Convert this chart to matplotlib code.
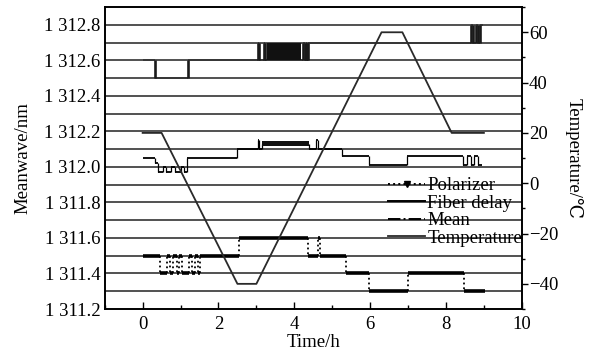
import matplotlib
matplotlib.use("Agg")
import matplotlib.pyplot as plt
from matplotlib.lines import Line2D
from matplotlib.ticker import FixedLocator, MultipleLocator, FuncFormatter

plt.rcParams['font.family'] = ['Liberation Serif', 'DejaVu Serif']
plt.rcParams['mathtext.fontset'] = 'stix'

# ---------------- data ----------------
temp_time = [0.0, 0.5, 2.5, 3.0, 6.3, 6.85, 8.15, 9.0]
temp_value = [20, 20, -40, -40, 60, 60, 20, 20]

polarizer_time = [0.0, 0.45, 0.63, 0.72, 0.80, 0.90, 0.97, 1.05, 1.21, 1.30, 1.38,
                  1.46, 1.50, 2.53, 4.36, 4.62, 4.68, 5.37, 5.97, 7.0, 8.47, 9.03]
polarizer_value = [1311.5, 1311.4, 1311.5, 1311.4, 1311.5, 1311.4, 1311.5, 1311.4,
                   1311.5, 1311.4, 1311.5, 1311.4, 1311.5, 1311.6, 1311.5, 1311.6,
                   1311.5, 1311.4, 1311.3, 1311.4, 1311.3]

fiber_time = [0.0, 0.33, 1.2, 3.05, 3.08, 3.2, 3.23, 4.18, 4.24, 4.27, 4.31, 4.34,
              4.37, 8.65, 8.71, 8.78, 8.84, 8.91, 8.97]
fiber_value = [1312.6, 1312.5, 1312.6, 1312.7, 1312.6, 1312.7, 1312.6, 1312.6,
               1312.7, 1312.6, 1312.7, 1312.6, 1312.7, 1312.8, 1312.7, 1312.8,
               1312.7, 1312.8]
fiber_band = (3.27, 4.18, 1312.6, 1312.7)

mean_time = [0.0, 0.33, 0.40, 0.55, 0.62, 0.75, 0.85, 1.0, 1.1, 1.18, 2.5, 3.03,
             3.07, 3.16, 4.40, 4.58, 4.63, 5.27, 5.97, 6.97, 8.45, 8.55, 8.65,
             8.75, 8.85, 8.95]
mean_value = [1312.05, 1312.02, 1311.97, 1312.0, 1311.97, 1312.0, 1311.97, 1312.0,
              1311.97, 1312.05, 1312.1, 1312.15, 1312.1, 1312.13, 1312.1, 1312.15,
              1312.1, 1312.06, 1312.01, 1312.06, 1312.01, 1312.06, 1312.01,
              1312.06, 1312.01]
mean_band = (3.16, 4.40, 1312.12, 1312.145)

grid_levels = [1311.3, 1311.4, 1311.5, 1311.6, 1311.7, 1311.8, 1311.9, 1312.0,
               1312.1, 1312.2, 1312.3, 1312.4, 1312.5, 1312.6, 1312.7, 1312.8]
left_ticks = [1311.2, 1311.4, 1311.6, 1311.8, 1312.0, 1312.2, 1312.4, 1312.6, 1312.8]
x_ticks = [0, 2, 4, 6, 8, 10]
right_ticks = [-40, -20, 0, 20, 40, 60]

legend_labels = ["Polarizer", "Fiber delay", "Mean", "Temperature"]

FS = 13.5
GRID_COLOR = '#333333'

# ---------------- figure ----------------
fig = plt.figure(figsize=(5.95, 3.56), dpi=100)
ax = fig.add_axes([0.176, 0.132, 0.701, 0.848])
ax2 = ax.twinx()

ax.set_xlim(-1, 10)
ax.set_ylim(1311.2, 1312.9)
ax2.set_ylim(-50, 70)

# grid lines
for g in grid_levels:
    ax.axhline(g, color=GRID_COLOR, lw=1.2, zorder=1)

def draw_steps(times, values, hlw, vls, vlw, color='black', hcolor=None):
    starts = times[:-1]
    ends = times[1:]
    ax.hlines(values, starts, ends, colors=hcolor or color, lw=hlw, zorder=3)
    for i in range(1, len(values)):
        ax.vlines(times[i], values[i - 1], values[i], colors=color,
                  linestyles=vls, lw=vlw, zorder=3)

# polarizer: thick horizontals, dotted transitions
draw_steps(polarizer_time, polarizer_value, 2.6, ':', 1.3)
# fiber delay: solid (horizontals lie on the 0.1 nm grid)
draw_steps(fiber_time, fiber_value, 1.2, '-', 1.9, color='#1a1a1a',
           hcolor=GRID_COLOR)
ax.fill_between([fiber_band[0], fiber_band[1]], fiber_band[2], fiber_band[3],
                color='#111111', lw=0, zorder=3)
# mean
draw_steps(mean_time, mean_value, 1.3, '-', 0.9)
ax.fill_between([mean_band[0], mean_band[1]], mean_band[2], mean_band[3],
                color='#111111', lw=0, zorder=3)

# temperature
ax2.plot(temp_time, temp_value, color='#2a2a2a', lw=1.3, zorder=4)

# ticks
ax.yaxis.set_major_locator(FixedLocator(left_ticks))
ax.yaxis.set_major_formatter(FuncFormatter(
    lambda v, p: "{} {:.1f}".format(int(v) // 1000, v - (int(v) // 1000) * 1000)))
ax.xaxis.set_major_locator(FixedLocator(x_ticks))
ax.xaxis.set_minor_locator(MultipleLocator(1))
ax.tick_params(axis='x', which='major', direction='in', length=5, width=1,
               labelsize=FS, pad=5, top=False)
ax.tick_params(axis='x', which='minor', direction='in', length=3, width=1, top=False)
ax.tick_params(axis='y', which='both', direction='in', length=0, labelsize=FS, pad=3)

ax2.yaxis.set_major_locator(FixedLocator(right_ticks))
ax2.yaxis.set_minor_locator(MultipleLocator(10))
ax2.yaxis.set_major_formatter(FuncFormatter(
    lambda v, p: ("\u2212%d" % abs(v)) if v < 0 else "%d" % v))
ax2.tick_params(axis='y', which='major', direction='out', length=4, width=1,
                labelsize=FS, pad=1)
ax2.tick_params(axis='y', which='minor', direction='out', length=2, width=1)

for sp in list(ax.spines.values()) + list(ax2.spines.values()):
    sp.set_linewidth(1.2)

ax.set_xlabel("Time/h", fontsize=FS, labelpad=1)
ax.set_ylabel("Meanwave/nm", fontsize=FS, labelpad=9)
ax2.set_ylabel("Temperature/\u2103", fontsize=FS, rotation=270, labelpad=18)

# legend
handles = [
    Line2D([], [], color='black', ls=':', lw=1.4, marker='v', markersize=4,
           markevery=[1]),
    Line2D([], [], color='black', ls='-', lw=1.4),
    Line2D([], [], color='black', ls='-.', lw=1.4),
    Line2D([], [], color='#2a2a2a', ls='-', lw=1.3),
]
leg = ax2.legend(handles, legend_labels, loc='upper left',
                 bbox_to_anchor=(0.679, 0.437), frameon=False, fontsize=FS,
                 handlelength=2.0, handletextpad=0.1, labelspacing=0.02,
                 borderpad=0.0, borderaxespad=0.0)

fig.savefig("out.png", dpi=100)
